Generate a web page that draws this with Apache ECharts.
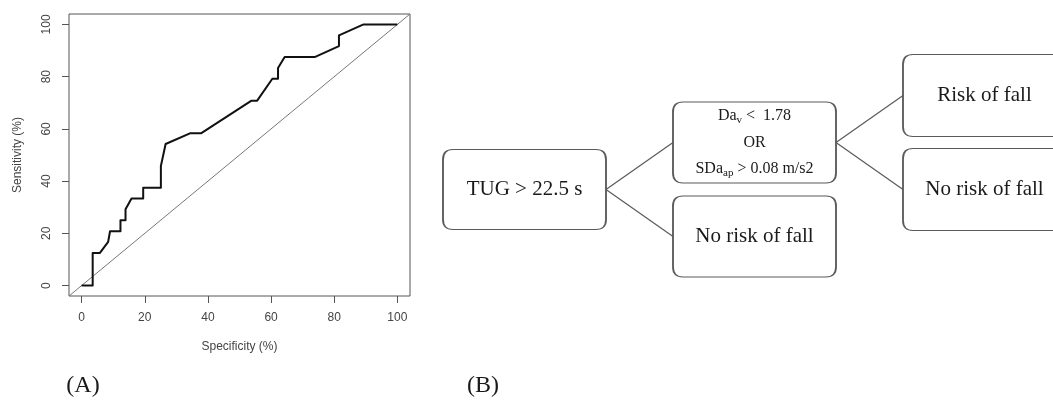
<!DOCTYPE html>
<html><head><meta charset="utf-8">
<script src="https://cdn.jsdelivr.net/npm/echarts@6/dist/echarts.min.js"></script>
<style>html,body{margin:0;padding:0;background:#fff}#c{width:1053px;height:403px}</style>
</head><body><div id="c"></div>
<script>
// ---------- DATA ----------
const specificity = [0, 3.5, 3.5, 5.8, 8.4, 9.0, 9.0, 12.3, 12.3, 13.9, 13.9, 15.8, 19.5, 19.5, 25.1, 25.1, 26.6, 34.3, 37.8, 53.8, 55.6, 60.4, 62.2, 62.2, 64.3, 73.8, 81.5, 81.5, 89.3, 100];
const sensitivity = [0, 0, 12.5, 12.5, 16.7, 16.7, 20.8, 20.8, 25.0, 25.0, 29.2, 33.3, 33.3, 37.5, 37.5, 45.8, 54.2, 58.3, 58.3, 70.8, 70.8, 79.2, 79.2, 83.3, 87.5, 87.5, 91.7, 95.8, 100, 100];
const chanceLine = [-4, 104];
const xTicks = [0, 20, 40, 60, 80, 100];
const yTicks = [0, 20, 40, 60, 80, 100];
const xTitle = 'Specificity (%)';
const yTitle = 'Sensitivity (%)';
const panelLabels = ['(A)', '(B)'];
// decision tree: node texts and parent index
const nodeLabels = [
  'TUG > 22.5 s',
  '{t|Da}{s|v}{t| <  1.78}\n{t|OR}\n{t|SDa}{s|ap}{t| > 0.08 m/s2}',
  'No risk of fall',
  'Risk of fall',
  'No risk of fall'
];
const nodeParent = [-1, 0, 0, 1, 1];

// ---------- STYLE ----------
const serif = 'Liberation Serif';
const sans = 'Liberation Sans';
const boxSize = [[163, 80], [163, 81], [163, 82]];
function rrPath(w, h, r) {
  return 'path://M' + r + ',0 H' + (w - r) + ' Q' + w + ',0 ' + w + ',' + r +
    ' V' + (h - r) + ' Q' + w + ',' + h + ' ' + (w - r) + ',' + h +
    ' H' + r + ' Q0,' + h + ' 0,' + (h - r) + ' V' + r + ' Q0,0 ' + r + ',0 Z';
}
function depthOf(i) { return nodeParent[i] < 0 ? 0 : depthOf(nodeParent[i]) + 1; }

const items = nodeLabels.map(function (lab, i) {
  const sz = boxSize[depthOf(i)];
  const isRich = lab.indexOf('{t|') >= 0;
  const item = {
    name: lab,
    symbol: rrPath(sz[0], sz[1], 10),
    symbolSize: sz,
    children: []
  };
  if (isRich) {
    item.label = {
      rich: {
        t: { fontSize: 16, fontFamily: serif, color: '#1a1a1a', lineHeight: 26.5 },
        s: { fontSize: 11, fontFamily: serif, color: '#1a1a1a', lineHeight: 12, padding: [8, 0, 0, 0] }
      }
    };
  }
  return item;
});
items.forEach(function (it, i) { if (nodeParent[i] >= 0) items[nodeParent[i]].children.push(it); });
const treeRoot = items[nodeParent.indexOf(-1)];

const rocData = specificity.map(function (x, i) { return [x, sensitivity[i]]; });
const chanceData = chanceLine.map(function (v) { return [v, v]; });

const chart = echarts.init(document.getElementById('c'));
const tickColor = '#555';
const labelStyle = { color: '#444', fontFamily: sans, fontSize: 12 };

const option = {
  animation: false,
  backgroundColor: '#fff',
  grid: { left: 69, top: 14, width: 341, height: 282, show: true, borderColor: '#555', borderWidth: 1, outerBoundsMode: 'none', containLabel: false },
  xAxis: {
    type: 'value', min: -4, max: 104,
    axisLine: { show: false, onZero: false },
    splitLine: { show: false },
    axisTick: { show: true, inside: false, customValues: xTicks, length: 7, lineStyle: { color: tickColor } },
    axisLabel: Object.assign({ customValues: xTicks, margin: 16 }, labelStyle),
    name: xTitle, nameLocation: 'middle', nameGap: 45,
    nameTextStyle: labelStyle
  },
  yAxis: {
    type: 'value', min: -4, max: 104,
    axisLine: { show: false, onZero: false },
    splitLine: { show: false },
    axisTick: { show: true, inside: false, customValues: yTicks, length: 7, lineStyle: { color: tickColor } },
    axisLabel: Object.assign({ customValues: yTicks, margin: 16, rotate: 90 }, labelStyle),
    name: yTitle, nameLocation: 'middle', nameGap: 45,
    nameTextStyle: labelStyle
  },
  series: [
    {
      type: 'line', data: chanceData, symbol: 'none', silent: true,
      lineStyle: { color: '#777', width: 1 }
    },
    {
      type: 'line', data: rocData, symbol: 'none', silent: true,
      lineStyle: { color: '#111', width: 2, join: 'round' }
    },
    {
      type: 'tree', data: [treeRoot], orient: 'LR', layout: 'orthogonal',
      left: 524.5, top: 1.5, width: 460, height: 329,
      roam: false, expandAndCollapse: false, initialTreeDepth: -1, silent: true,
      itemStyle: { color: '#fff', borderColor: '#5a5a5a', borderWidth: 1.3 },
      lineStyle: { opacity: 0, width: 0 },
      label: { position: 'inside', align: 'center', verticalAlign: 'middle', fontSize: 21, fontFamily: serif, color: '#1a1a1a' },
      leaves: { label: { position: 'inside', align: 'center', verticalAlign: 'middle', fontSize: 21, fontFamily: serif, color: '#1a1a1a' } },
      emphasis: { disabled: true }
    }
  ]
};
chart.setOption(option);

// connectors from the tree layout computed by ECharts
const graphics = [
  { type: 'text', id: 'pa', x: 83, y: 386, style: { text: panelLabels[0], fontSize: 24, fontFamily: serif, fill: '#1a1a1a', align: 'center', verticalAlign: 'middle' } },
  { type: 'text', id: 'pb', x: 483, y: 386, style: { text: panelLabels[1], fontSize: 24, fontFamily: serif, fill: '#1a1a1a', align: 'center', verticalAlign: 'middle' } }
];
try {
  const sm = chart.getModel().getSeriesByIndex(2);
  const li = sm.layoutInfo;
  const root = sm.getData().tree.root;
  let k = 0;
  root.eachNode(function (node) {
    const parent = node.parentNode;
    if (!parent || parent === root) return;
    const pl = parent.getLayout(), cl = node.getLayout();
    const ps = parent.getModel().get('symbolSize'), cs = node.getModel().get('symbolSize');
    graphics.push({
      type: 'line', id: 'e' + (k++), silent: true,
      shape: { x1: li.x + pl.x + ps[0] / 2, y1: li.y + pl.y, x2: li.x + cl.x - cs[0] / 2, y2: li.y + cl.y },
      style: { stroke: '#5a5a5a', lineWidth: 1.2 }
    });
  });
} catch (e) { console.error(e); }
chart.setOption({ graphic: graphics });
</script></body></html>
